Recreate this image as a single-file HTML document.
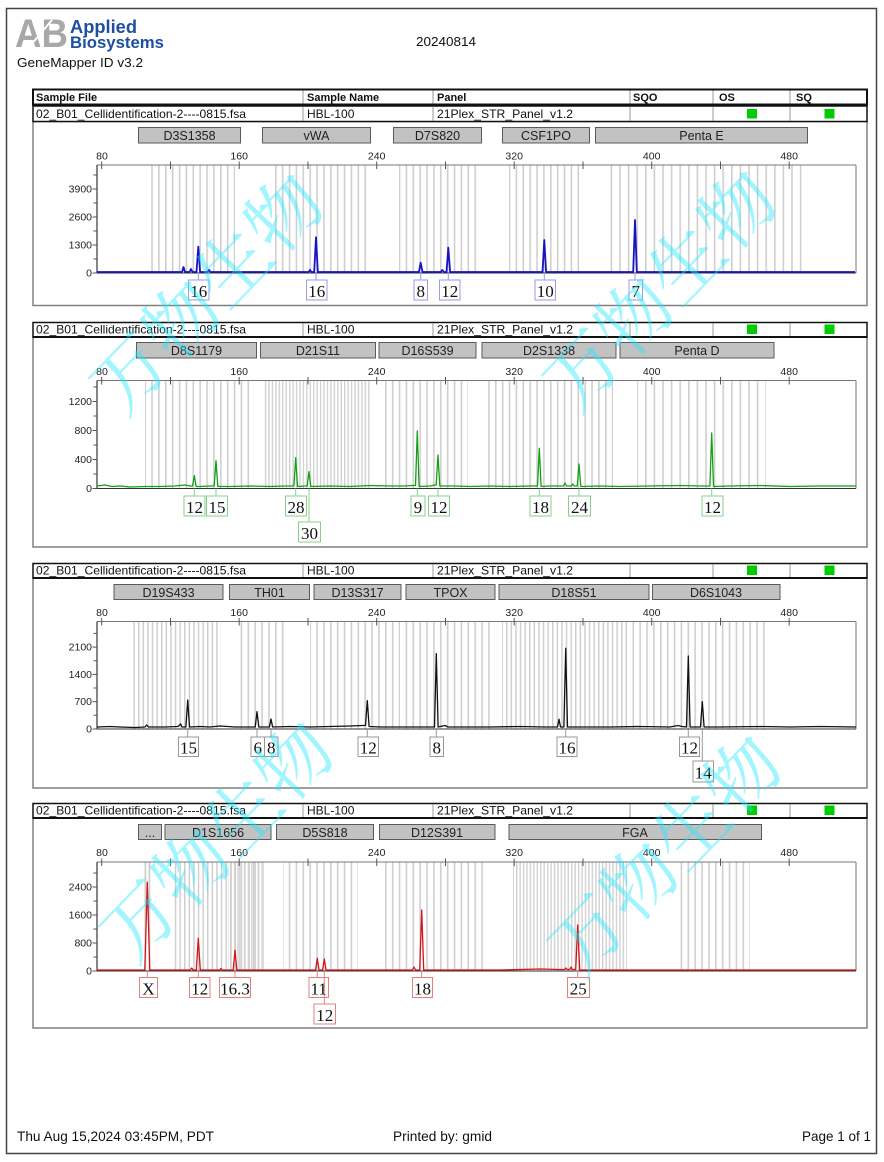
<!DOCTYPE html>
<html>
<head>
<meta charset="utf-8">
<style>
html,body{margin:0;padding:0;background:#fff;}
svg{display:block;}
.s{font-family:"Liberation Sans",Arial,sans-serif;}
.b{font-family:"Liberation Sans",Arial,sans-serif;font-weight:bold;}
.t{font-family:"Liberation Serif","Times New Roman",serif;font-size:17px;fill:#111;}
.ax{font-family:"Liberation Sans",Arial,sans-serif;font-size:10.5px;fill:#222;}
.bin{font-family:"Liberation Sans",Arial,sans-serif;font-size:12.5px;fill:#222;}
.wm{font-family:"Noto Serif CJK SC","Noto Sans CJK SC",serif;font-size:74px;fill:#20e8ff;fill-opacity:0.42;}
</style>
</head>
<body>
<svg width="884" height="1162" viewBox="0 0 884 1162" xmlns="http://www.w3.org/2000/svg">
<defs>
<pattern id="b4" patternUnits="userSpaceOnUse" width="6.875" height="20"><rect x="0" y="0" width="1.6" height="20" fill="#cfcfcf"/></pattern>
<pattern id="b3" patternUnits="userSpaceOnUse" width="4.6" height="20"><rect x="0" y="0" width="1.5" height="20" fill="#cfcfcf"/></pattern>
<pattern id="b2" patternUnits="userSpaceOnUse" width="3.44" height="20"><rect x="0" y="0" width="1.4" height="20" fill="#d2d2d2"/></pattern>
<pattern id="b5" patternUnits="userSpaceOnUse" width="8.6" height="20"><rect x="0" y="0" width="1.6" height="20" fill="#cfcfcf"/></pattern>
</defs>
<rect width="884" height="1162" fill="#fff"/>
<!-- page border -->
<rect x="6.5" y="8.5" width="870" height="1145" fill="none" stroke="#444" stroke-width="1.5"/>

<!-- header -->
<text x="15" y="47" class="b" font-size="40" fill="#a8a8a8" textLength="53" lengthAdjust="spacingAndGlyphs">AB</text>
<line x1="30" y1="46" x2="52" y2="20" stroke="#fff" stroke-width="2"/>
<text x="70" y="33" class="b" font-size="18" fill="#1d50a0" textLength="67" lengthAdjust="spacingAndGlyphs">Applied</text>
<text x="70" y="48" class="b" font-size="17" fill="#1d50a0" textLength="94" lengthAdjust="spacingAndGlyphs">Biosystems</text>
<text x="416" y="46" class="s" font-size="13" fill="#111" textLength="60" lengthAdjust="spacingAndGlyphs">20240814</text>
<text x="17" y="67" class="s" font-size="13" fill="#111" textLength="126" lengthAdjust="spacingAndGlyphs">GeneMapper ID v3.2</text>

<!-- ================= PANEL 1 ================= -->
<rect x="33" y="121.5" width="834" height="184" fill="none" stroke="#808080" stroke-width="1.5"/>
<rect x="33" y="89.5" width="834" height="15" fill="#fff" stroke="#111" stroke-width="2"/>
<g stroke="#999" stroke-width="1"><line x1="303" y1="90.5" x2="303" y2="103.5"/><line x1="433" y1="90.5" x2="433" y2="103.5"/><line x1="630" y1="90.5" x2="630" y2="103.5"/><line x1="713" y1="90.5" x2="713" y2="103.5"/><line x1="790" y1="90.5" x2="790" y2="103.5"/></g>
<g class="b" font-size="11" fill="#111"><text x="36" y="101">Sample File</text><text x="307" y="101">Sample Name</text><text x="437" y="101">Panel</text><text x="633" y="101">SQO</text><text x="719" y="101">OS</text><text x="796" y="101">SQ</text></g>
<rect x="33" y="106" width="834" height="15.5" fill="#fff" stroke="#111" stroke-width="1.5"/>
<g stroke="#999" stroke-width="1"><line x1="303" y1="107" x2="303" y2="120.5"/><line x1="433" y1="107" x2="433" y2="120.5"/><line x1="630" y1="107" x2="630" y2="120.5"/><line x1="713" y1="107" x2="713" y2="120.5"/><line x1="790" y1="107" x2="790" y2="120.5"/></g>
<g class="s" font-size="12" fill="#111"><text x="36" y="118" textLength="210" lengthAdjust="spacingAndGlyphs">02_B01_Cellidentification-2----0815.fsa</text><text x="307" y="118">HBL-100</text><text x="437" y="118" textLength="136" lengthAdjust="spacingAndGlyphs">21Plex_STR_Panel_v1.2</text></g>
<rect x="747" y="109" width="10" height="9.5" fill="#00cc00"/><rect x="824.5" y="109" width="10" height="9.5" fill="#00cc00"/>
<!-- bins boxes -->
<g fill="#c2c2c2" stroke="#5a5a5a" stroke-width="1">
<rect x="138.5" y="127.5" width="102" height="15.5"/><rect x="262.5" y="127.5" width="108" height="15.5"/><rect x="393.5" y="127.5" width="88" height="15.5"/><rect x="502.5" y="127.5" width="87" height="15.5"/><rect x="595.5" y="127.5" width="212" height="15.5"/></g>
<g class="bin" text-anchor="middle"><text x="189.5" y="140">D3S1358</text><text x="316.5" y="140">vWA</text><text x="437.5" y="140">D7S820</text><text x="546" y="140">CSF1PO</text><text x="701.5" y="140">Penta E</text></g>
<!-- allele bins -->
<rect x="149" y="165" width="86" height="108" fill="url(#b4)"/>
<rect x="275" y="165" width="96" height="108" fill="url(#b4)"/>
<rect x="399" y="165" width="79" height="108" fill="url(#b4)"/>
<rect x="509" y="165" width="75" height="108" fill="url(#b4)"/>
<rect x="610" y="165" width="192" height="108" fill="url(#b5)"/>
<!-- plot box -->
<line x1="97" y1="165" x2="856" y2="165" stroke="#777" stroke-width="1"/>
<line x1="856" y1="165" x2="856" y2="273" stroke="#777" stroke-width="1"/>
<line x1="97" y1="165" x2="97" y2="273" stroke="#333" stroke-width="1.2"/>
<line x1="97" y1="273" x2="856" y2="273" stroke="#333" stroke-width="1"/>
<g stroke="#555" stroke-width="1"><line x1="101.7" y1="161.5" x2="101.7" y2="169"/><line x1="170.5" y1="161.5" x2="170.5" y2="169"/><line x1="239.2" y1="161.5" x2="239.2" y2="169"/><line x1="308" y1="161.5" x2="308" y2="169"/><line x1="376.7" y1="161.5" x2="376.7" y2="169"/><line x1="445.5" y1="161.5" x2="445.5" y2="169"/><line x1="514.2" y1="161.5" x2="514.2" y2="169"/><line x1="583" y1="161.5" x2="583" y2="169"/><line x1="651.7" y1="161.5" x2="651.7" y2="169"/><line x1="720.5" y1="161.5" x2="720.5" y2="169"/><line x1="789.2" y1="161.5" x2="789.2" y2="169"/>
<line x1="92.5" y1="273" x2="97" y2="273"/><line x1="92.5" y1="245" x2="97" y2="245"/><line x1="92.5" y1="217" x2="97" y2="217"/><line x1="92.5" y1="189" x2="97" y2="189"/><line x1="93.5" y1="259" x2="97" y2="259"/><line x1="93.5" y1="231" x2="97" y2="231"/><line x1="93.5" y1="203" x2="97" y2="203"/><line x1="93.5" y1="175" x2="97" y2="175"/></g>
<g class="ax" text-anchor="middle"><text x="102" y="159.5">80</text><text x="239.2" y="159.5">160</text><text x="376.7" y="159.5">240</text><text x="514.2" y="159.5">320</text><text x="651.7" y="159.5">400</text><text x="789.2" y="159.5">480</text></g>
<g class="ax" text-anchor="end"><text x="92" y="276.5">0</text><text x="92" y="248.5">1300</text><text x="92" y="220.5">2600</text><text x="92" y="192.5">3900</text></g>
<path d="M97,272 H182 L183.5,267 L185,272 H189.5 L191,269 L192.5,272 H196.5 L198.3,246.7 L200.1,272 H207.5 L209,270 L210.5,272 H308.5 L310,270 L311.5,272 H314.2 L316,237.3 L317.8,272 H418.9 L420.7,262.7 L422.5,272 H440.8 L442.3,270 L443.8,272 H446.5 L448.3,247.7 L450.1,272 H542.5 L544.3,240 L546.1,272 H633.2 L635,220 L636.8,272 H855" fill="none" stroke="#1414c0" stroke-width="1.8" stroke-linejoin="round"/>
<!-- labels P1 -->
<g stroke="#9a9ae6" stroke-width="1" fill="#fff">
<line x1="198.3" y1="273" x2="198.3" y2="280"/><rect x="188.5" y="280" width="20.5" height="20"/>
<line x1="316" y1="273" x2="316" y2="280"/><rect x="306.5" y="280" width="20.5" height="20"/>
<line x1="420.7" y1="273" x2="420.7" y2="280"/><rect x="414" y="280" width="13.5" height="20"/>
<line x1="448.3" y1="273" x2="448.3" y2="280"/><rect x="439.5" y="280" width="20.5" height="20"/>
<line x1="544.3" y1="273" x2="544.3" y2="280"/><rect x="535" y="280" width="20.5" height="20"/>
<line x1="635" y1="273" x2="635" y2="280"/><rect x="629" y="280" width="13.5" height="20"/>
</g>
<g class="t" text-anchor="middle"><text x="198.7" y="297">16</text><text x="316.7" y="297">16</text><text x="420.8" y="297">8</text><text x="449.7" y="297">12</text><text x="545.2" y="297">10</text><text x="635.8" y="297">7</text></g>

<!-- ================= PANEL 2 ================= -->
<rect x="33" y="337" width="834" height="210" fill="none" stroke="#808080" stroke-width="1.5"/>
<rect x="33" y="322.5" width="834" height="14.5" fill="#fff" stroke="#111" stroke-width="1.5"/>
<line x1="33" y1="337" x2="867" y2="337" stroke="#111" stroke-width="2"/>
<g stroke="#999" stroke-width="1"><line x1="303" y1="323.5" x2="303" y2="336"/><line x1="433" y1="323.5" x2="433" y2="336"/><line x1="630" y1="323.5" x2="630" y2="336"/><line x1="713" y1="323.5" x2="713" y2="336"/><line x1="790" y1="323.5" x2="790" y2="336"/></g>
<g class="s" font-size="12" fill="#111"><text x="36" y="333.5" textLength="210" lengthAdjust="spacingAndGlyphs">02_B01_Cellidentification-2----0815.fsa</text><text x="307" y="333.5">HBL-100</text><text x="437" y="333.5" textLength="136" lengthAdjust="spacingAndGlyphs">21Plex_STR_Panel_v1.2</text></g>
<rect x="747" y="324.5" width="10" height="9.5" fill="#00cc00"/><rect x="824.5" y="324.5" width="10" height="9.5" fill="#00cc00"/>
<g fill="#c2c2c2" stroke="#5a5a5a" stroke-width="1">
<rect x="136.5" y="342.5" width="120" height="15.5"/><rect x="260.5" y="342.5" width="115" height="15.5"/><rect x="379" y="342.5" width="97" height="15.5"/><rect x="482" y="342.5" width="134" height="15.5"/><rect x="620" y="342.5" width="154" height="15.5"/></g>
<g class="bin" text-anchor="middle"><text x="196.5" y="355">D8S1179</text><text x="318" y="355">D21S11</text><text x="427.5" y="355">D16S539</text><text x="549" y="355">D2S1338</text><text x="697" y="355">Penta D</text></g>
<rect x="145" y="380.5" width="109" height="108" fill="url(#b4)"/>
<rect x="263" y="380.5" width="108" height="108" fill="url(#b2)"/>
<rect x="385" y="380.5" width="83" height="108" fill="url(#b4)"/>
<rect x="488" y="380.5" width="125" height="108" fill="url(#b4)"/>
<rect x="637" y="380.5" width="129" height="108" fill="url(#b5)"/>
<line x1="97" y1="380.5" x2="856" y2="380.5" stroke="#777" stroke-width="1"/>
<line x1="856" y1="380.5" x2="856" y2="488.5" stroke="#777" stroke-width="1"/>
<line x1="97" y1="380.5" x2="97" y2="488.5" stroke="#333" stroke-width="1.2"/>
<line x1="97" y1="488.5" x2="856" y2="488.5" stroke="#333" stroke-width="1"/>
<g stroke="#555" stroke-width="1"><line x1="101.7" y1="377" x2="101.7" y2="384.5"/><line x1="170.5" y1="377" x2="170.5" y2="384.5"/><line x1="239.2" y1="377" x2="239.2" y2="384.5"/><line x1="308" y1="377" x2="308" y2="384.5"/><line x1="376.7" y1="377" x2="376.7" y2="384.5"/><line x1="445.5" y1="377" x2="445.5" y2="384.5"/><line x1="514.2" y1="377" x2="514.2" y2="384.5"/><line x1="583" y1="377" x2="583" y2="384.5"/><line x1="651.7" y1="377" x2="651.7" y2="384.5"/><line x1="720.5" y1="377" x2="720.5" y2="384.5"/><line x1="789.2" y1="377" x2="789.2" y2="384.5"/>
<line x1="92.5" y1="488.5" x2="97" y2="488.5"/><line x1="92.5" y1="459.5" x2="97" y2="459.5"/><line x1="92.5" y1="430.5" x2="97" y2="430.5"/><line x1="92.5" y1="401.5" x2="97" y2="401.5"/><line x1="93.5" y1="474" x2="97" y2="474"/><line x1="93.5" y1="445" x2="97" y2="445"/><line x1="93.5" y1="416" x2="97" y2="416"/><line x1="93.5" y1="387" x2="97" y2="387"/></g>
<g class="ax" text-anchor="middle"><text x="102" y="375">80</text><text x="239.2" y="375">160</text><text x="376.7" y="375">240</text><text x="514.2" y="375">320</text><text x="651.7" y="375">400</text><text x="789.2" y="375">480</text></g>
<g class="ax" text-anchor="end"><text x="92" y="492">0</text><text x="92" y="463">400</text><text x="92" y="434">800</text><text x="92" y="405">1200</text></g>
<path d="M97,486 L105,485 L112,486.5 L120,486 L130,487 L145,486.5 L160,486.5 L175,486 L185,485 L190,486 L192.5,486 L194.3,475.7 L196.1,486.5 L200,486.5 L210,486 L214.2,486 L216,460.7 L217.8,486.5 L230,486.5 L250,486 L270,486.5 L285,486 L293.9,486 L295.7,457.7 L297.5,486.5 L305,486 L307.2,486 L309,471.7 L310.8,486.5 L330,486 L350,486.5 L370,485.5 L390,486 L405,486 L412,485.5 L415.5,485.5 L417.3,431 L419.1,486.5 L430,486 L435,485 L436.2,485 L438,455 L439.8,486 L455,486 L470,486.5 L490,486 L510,486.5 L530,486 L537.5,486 L539.3,448.3 L541.1,486.5 L550,486 L563.5,486 L565,483 L566.5,486 L571.5,486 L572.7,484 L574,486 L577.2,486 L579,464 L580.8,486.5 L600,486 L620,486.5 L650,486 L680,485.5 L700,486 L709.9,486 L711.7,433 L713.5,486.5 L730,486 L760,485.5 L790,486.5 L820,486 L856,486" fill="none" stroke="#14a014" stroke-width="1.3" stroke-linejoin="round"/>
<g stroke="#88d088" stroke-width="1" fill="#fff">
<line x1="194.3" y1="488.5" x2="194.3" y2="496"/><rect x="184" y="496" width="21" height="20"/>
<line x1="216" y1="488.5" x2="216" y2="496"/><rect x="206.5" y="496" width="21" height="20"/>
<line x1="295.7" y1="488.5" x2="295.7" y2="496"/><rect x="285.5" y="496" width="21" height="20"/>
<line x1="309" y1="488.5" x2="309" y2="522"/><rect x="298.5" y="522" width="22" height="20"/>
<line x1="417.3" y1="488.5" x2="417.3" y2="496"/><rect x="411" y="496" width="14" height="20"/>
<line x1="438" y1="488.5" x2="438" y2="496"/><rect x="428.5" y="496" width="21" height="20"/>
<line x1="539.3" y1="488.5" x2="539.3" y2="496"/><rect x="530" y="496" width="21" height="20"/>
<line x1="579" y1="488.5" x2="579" y2="496"/><rect x="568.5" y="496" width="22" height="20"/>
<line x1="711.7" y1="488.5" x2="711.7" y2="496"/><rect x="702" y="496" width="21" height="20"/>
</g>
<g class="t" text-anchor="middle"><text x="194.5" y="513">12</text><text x="217" y="513">15</text><text x="296" y="513">28</text><text x="309.5" y="539">30</text><text x="418" y="513">9</text><text x="439" y="513">12</text><text x="540.5" y="513">18</text><text x="579.5" y="513">24</text><text x="712.5" y="513">12</text></g>

<!-- ================= PANEL 3 ================= -->
<rect x="33" y="578" width="834" height="210" fill="none" stroke="#808080" stroke-width="1.5"/>
<rect x="33" y="563.5" width="834" height="14.5" fill="#fff" stroke="#111" stroke-width="1.5"/>
<line x1="33" y1="578" x2="867" y2="578" stroke="#111" stroke-width="2"/>
<g stroke="#999" stroke-width="1"><line x1="303" y1="564.5" x2="303" y2="577"/><line x1="433" y1="564.5" x2="433" y2="577"/><line x1="630" y1="564.5" x2="630" y2="577"/><line x1="713" y1="564.5" x2="713" y2="577"/><line x1="790" y1="564.5" x2="790" y2="577"/></g>
<g class="s" font-size="12" fill="#111"><text x="36" y="574.5" textLength="210" lengthAdjust="spacingAndGlyphs">02_B01_Cellidentification-2----0815.fsa</text><text x="307" y="574.5">HBL-100</text><text x="437" y="574.5" textLength="136" lengthAdjust="spacingAndGlyphs">21Plex_STR_Panel_v1.2</text></g>
<rect x="747" y="565.5" width="10" height="9.5" fill="#00cc00"/><rect x="824.5" y="565.5" width="10" height="9.5" fill="#00cc00"/>
<g fill="#c2c2c2" stroke="#5a5a5a" stroke-width="1">
<rect x="114" y="584.5" width="109" height="15"/><rect x="229.5" y="584.5" width="80" height="15"/><rect x="314" y="584.5" width="87" height="15"/><rect x="406" y="584.5" width="89" height="15"/><rect x="499" y="584.5" width="150" height="15"/><rect x="652.5" y="584.5" width="127.5" height="15"/></g>
<g class="bin" text-anchor="middle"><text x="168.5" y="597">D19S433</text><text x="269.5" y="597">TH01</text><text x="357.5" y="597">D13S317</text><text x="450.5" y="597">TPOX</text><text x="574" y="597">D18S51</text><text x="716" y="597">D6S1043</text></g>
<rect x="132" y="621.5" width="89" height="107.5" fill="url(#b3)"/>
<rect x="236" y="621.5" width="52" height="107.5" fill="url(#b4)"/>
<rect x="310" y="621.5" width="90" height="107.5" fill="url(#b4)"/>
<rect x="404" y="621.5" width="89" height="107.5" fill="url(#b4)"/>
<rect x="502" y="621.5" width="125" height="107.5" fill="url(#b3)"/>
<rect x="632" y="621.5" width="133" height="107.5" fill="url(#b4)"/>
<line x1="97" y1="621.5" x2="856" y2="621.5" stroke="#777" stroke-width="1"/>
<line x1="856" y1="621.5" x2="856" y2="729" stroke="#777" stroke-width="1"/>
<line x1="97" y1="621.5" x2="97" y2="729" stroke="#333" stroke-width="1.2"/>
<line x1="97" y1="729" x2="856" y2="729" stroke="#333" stroke-width="1"/>
<g stroke="#555" stroke-width="1"><line x1="101.7" y1="618" x2="101.7" y2="625.5"/><line x1="170.5" y1="618" x2="170.5" y2="625.5"/><line x1="239.2" y1="618" x2="239.2" y2="625.5"/><line x1="308" y1="618" x2="308" y2="625.5"/><line x1="376.7" y1="618" x2="376.7" y2="625.5"/><line x1="445.5" y1="618" x2="445.5" y2="625.5"/><line x1="514.2" y1="618" x2="514.2" y2="625.5"/><line x1="583" y1="618" x2="583" y2="625.5"/><line x1="651.7" y1="618" x2="651.7" y2="625.5"/><line x1="720.5" y1="618" x2="720.5" y2="625.5"/><line x1="789.2" y1="618" x2="789.2" y2="625.5"/>
<line x1="92.5" y1="729" x2="97" y2="729"/><line x1="92.5" y1="701.7" x2="97" y2="701.7"/><line x1="92.5" y1="674.4" x2="97" y2="674.4"/><line x1="92.5" y1="647.1" x2="97" y2="647.1"/><line x1="93.5" y1="715.3" x2="97" y2="715.3"/><line x1="93.5" y1="688" x2="97" y2="688"/><line x1="93.5" y1="660.7" x2="97" y2="660.7"/><line x1="93.5" y1="633.4" x2="97" y2="633.4"/></g>
<g class="ax" text-anchor="middle"><text x="102" y="616">80</text><text x="239.2" y="616">160</text><text x="376.7" y="616">240</text><text x="514.2" y="616">320</text><text x="651.7" y="616">400</text><text x="789.2" y="616">480</text></g>
<g class="ax" text-anchor="end"><text x="92" y="732.5">0</text><text x="92" y="705.2">700</text><text x="92" y="677.9">1400</text><text x="92" y="650.6">2100</text></g>
<path d="M97,727 L110,726.5 L120,727 L135,727.5 L145,727 L146.7,725 L148.5,727 L165,727 L178,726.5 L180.7,724 L182,727 L185.9,727 L187.7,700 L189.5,727 L200,726.5 L210,727 L220,726 L235,727 L250,727 L255.2,727 L257,711.7 L258.8,727 L269.4,727 L271,719 L272.6,727 L290,726.5 L310,727 L330,726.5 L350,726 L362,725.5 L365.5,725.5 L367.3,700.7 L369.1,726.5 L380,727 L400,727 L420,727 L434.5,727 L436.3,653.7 L438.1,727 L445,725.5 L448,727 L460,727 L490,727 L520,726.5 L545,727 L557.5,727 L559,719.3 L560.5,727 L563.9,727 L565.7,648.3 L567.5,727 L580,727 L610,727 L640,726.5 L670,727 L678,725.5 L682,726.5 L686.5,727 L688.3,656 L690.1,727 L700.5,727 L702.3,701.7 L704.1,727 L720,727 L760,726.5 L790,727 L820,726.5 L856,727" fill="none" stroke="#111" stroke-width="1.3" stroke-linejoin="round"/>
<g stroke="#999" stroke-width="1" fill="#fff">
<line x1="187.7" y1="729" x2="187.7" y2="737"/><rect x="178.5" y="737" width="20" height="19.5"/>
<line x1="257" y1="729" x2="257" y2="737"/><rect x="251" y="737" width="13.5" height="19.5"/>
<line x1="271" y1="729" x2="271" y2="737"/><rect x="264.5" y="737" width="13.5" height="19.5"/>
<line x1="367.3" y1="729" x2="367.3" y2="737"/><rect x="358" y="737" width="20.5" height="19.5"/>
<line x1="436.3" y1="729" x2="436.3" y2="737"/><rect x="430" y="737" width="13.5" height="19.5"/>
<line x1="565.7" y1="729" x2="565.7" y2="737"/><rect x="557" y="737" width="20" height="19.5"/>
<line x1="688.3" y1="729" x2="688.3" y2="737"/><rect x="679.5" y="737" width="20" height="19.5"/>
<line x1="702.3" y1="729" x2="702.3" y2="761"/><rect x="693" y="761" width="20.5" height="21"/>
</g>
<g class="t" text-anchor="middle"><text x="188.5" y="753.5">15</text><text x="257.7" y="753.5">6</text><text x="271.3" y="753.5">8</text><text x="368.2" y="753.5">12</text><text x="436.8" y="753.5">8</text><text x="567" y="753.5">16</text><text x="689.5" y="753.5">12</text><text x="703.2" y="778.5">14</text></g>

<!-- ================= PANEL 4 ================= -->
<rect x="33" y="818" width="834" height="210" fill="none" stroke="#808080" stroke-width="1.5"/>
<rect x="33" y="803.5" width="834" height="14.5" fill="#fff" stroke="#111" stroke-width="1.5"/>
<line x1="33" y1="818" x2="867" y2="818" stroke="#111" stroke-width="2"/>
<g stroke="#999" stroke-width="1"><line x1="303" y1="804.5" x2="303" y2="817"/><line x1="433" y1="804.5" x2="433" y2="817"/><line x1="630" y1="804.5" x2="630" y2="817"/><line x1="713" y1="804.5" x2="713" y2="817"/><line x1="790" y1="804.5" x2="790" y2="817"/></g>
<g class="s" font-size="12" fill="#111"><text x="36" y="814.5" textLength="210" lengthAdjust="spacingAndGlyphs">02_B01_Cellidentification-2----0815.fsa</text><text x="307" y="814.5">HBL-100</text><text x="437" y="814.5" textLength="136" lengthAdjust="spacingAndGlyphs">21Plex_STR_Panel_v1.2</text></g>
<rect x="747" y="805.5" width="10" height="9.5" fill="#00cc00"/><rect x="824.5" y="805.5" width="10" height="9.5" fill="#00cc00"/>
<g fill="#c2c2c2" stroke="#5a5a5a" stroke-width="1">
<rect x="138.5" y="824.5" width="23" height="15"/><rect x="165" y="824.5" width="106" height="15"/><rect x="276.5" y="824.5" width="97" height="15"/><rect x="379.5" y="824.5" width="115.5" height="15"/><rect x="509" y="824.5" width="252.5" height="15"/></g>
<g class="bin" text-anchor="middle"><text x="150" y="837">...</text><text x="218" y="837">D1S1656</text><text x="325" y="837">D5S818</text><text x="437" y="837">D12S391</text><text x="635" y="837">FGA</text></g>
<rect x="144.5" y="862" width="1.8" height="109" fill="#cfcfcf"/><rect x="148.5" y="862" width="1.8" height="109" fill="#cfcfcf"/>
<rect x="172" y="862" width="94" height="109" fill="url(#b3)"/>
<rect x="228" y="862" width="34" height="109" fill="url(#b2)"/>
<rect x="283" y="862" width="75" height="109" fill="url(#b4)"/>
<rect x="385" y="862" width="103" height="109" fill="url(#b4)"/>
<rect x="513" y="862" width="114" height="109" fill="url(#b2)"/>
<rect x="677" y="862" width="73" height="109" fill="url(#b4)"/>
<line x1="97" y1="862" x2="856" y2="862" stroke="#777" stroke-width="1"/>
<line x1="856" y1="862" x2="856" y2="971" stroke="#777" stroke-width="1"/>
<line x1="97" y1="862" x2="97" y2="971" stroke="#333" stroke-width="1.2"/>
<line x1="97" y1="971" x2="856" y2="971" stroke="#333" stroke-width="1"/>
<g stroke="#555" stroke-width="1"><line x1="101.7" y1="858.5" x2="101.7" y2="866"/><line x1="170.5" y1="858.5" x2="170.5" y2="866"/><line x1="239.2" y1="858.5" x2="239.2" y2="866"/><line x1="308" y1="858.5" x2="308" y2="866"/><line x1="376.7" y1="858.5" x2="376.7" y2="866"/><line x1="445.5" y1="858.5" x2="445.5" y2="866"/><line x1="514.2" y1="858.5" x2="514.2" y2="866"/><line x1="583" y1="858.5" x2="583" y2="866"/><line x1="651.7" y1="858.5" x2="651.7" y2="866"/><line x1="720.5" y1="858.5" x2="720.5" y2="866"/><line x1="789.2" y1="858.5" x2="789.2" y2="866"/>
<line x1="92.5" y1="971" x2="97" y2="971"/><line x1="92.5" y1="943" x2="97" y2="943"/><line x1="92.5" y1="915" x2="97" y2="915"/><line x1="92.5" y1="887" x2="97" y2="887"/><line x1="93.5" y1="957" x2="97" y2="957"/><line x1="93.5" y1="929" x2="97" y2="929"/><line x1="93.5" y1="901" x2="97" y2="901"/><line x1="93.5" y1="873" x2="97" y2="873"/></g>
<g class="ax" text-anchor="middle"><text x="102" y="856">80</text><text x="239.2" y="856">160</text><text x="376.7" y="856">240</text><text x="514.2" y="856">320</text><text x="651.7" y="856">400</text><text x="789.2" y="856">480</text></g>
<g class="ax" text-anchor="end"><text x="92" y="974.5">0</text><text x="92" y="946.5">800</text><text x="92" y="918.5">1600</text><text x="92" y="890.5">2400</text></g>
<path d="M97,970 L144.8,970 L147.3,882.3 L149.8,970 L190.3,970 L191.7,968 L193,970 L196.3,970 L198.3,938.3 L200.3,970 L219.8,970 L221,968.5 L222.2,970 L233.2,970 L235,950.3 L236.8,970 L315.6,970 L317.3,958.3 L319,970 L322.6,970 L324.3,959 L326,970 L412.5,970 L414,967 L415.5,970 L419.7,970 L421.7,910 L423.7,970 L500,970 L540,969 L560,969.5 L564.8,969.5 L566,968 L567.2,969.5 L569.8,969.5 L571,967 L572.2,969.5 L575.7,969.5 L577.7,925 L579.7,970 L856,970" fill="none" stroke="#d41414" stroke-width="1.3" stroke-linejoin="round"/>
<g stroke="#e48080" stroke-width="1" fill="#fff">
<line x1="147.3" y1="971" x2="147.3" y2="977.5"/><rect x="139.5" y="977.5" width="18" height="20"/>
<line x1="198.3" y1="971" x2="198.3" y2="977.5"/><rect x="189.5" y="977.5" width="20.5" height="20"/>
<line x1="235" y1="971" x2="235" y2="977.5"/><rect x="219.5" y="977.5" width="31" height="20"/>
<line x1="317.3" y1="971" x2="317.3" y2="977.5"/><rect x="309" y="977.5" width="19.5" height="20"/>
<line x1="324.3" y1="971" x2="324.3" y2="1004"/><rect x="314" y="1004" width="21.5" height="20"/>
<line x1="421.7" y1="971" x2="421.7" y2="977.5"/><rect x="412.5" y="977.5" width="20" height="20"/>
<line x1="577.7" y1="971" x2="577.7" y2="977.5"/><rect x="567.5" y="977.5" width="22" height="20"/>
</g>
<g class="t" text-anchor="middle"><text x="148.5" y="994.5">X</text><text x="199.7" y="994.5">12</text><text x="235" y="994.5">16.3</text><text x="318.7" y="994.5">11</text><text x="324.8" y="1021">12</text><text x="422.5" y="994.5">18</text><text x="578.3" y="994.5">25</text></g>

<!-- watermarks -->
<text class="wm" text-anchor="middle" dominant-baseline="central" transform="translate(204,290) rotate(-46)">万物生物</text>
<text class="wm" text-anchor="middle" dominant-baseline="central" transform="translate(657,287) rotate(-46)">万物生物</text>
<text class="wm" text-anchor="middle" dominant-baseline="central" transform="translate(214,838) rotate(-46)">万物生物</text>
<text class="wm" text-anchor="middle" dominant-baseline="central" transform="translate(662,852) rotate(-46)">万物生物</text>

<!-- footer -->
<text x="17" y="1141" class="s" font-size="14" fill="#111" textLength="197" lengthAdjust="spacingAndGlyphs">Thu Aug 15,2024 03:45PM, PDT</text>
<text x="393" y="1141" class="s" font-size="14" fill="#111" textLength="99" lengthAdjust="spacingAndGlyphs">Printed by: gmid</text>
<text x="802" y="1141" class="s" font-size="14" fill="#111" textLength="69" lengthAdjust="spacingAndGlyphs">Page 1 of 1</text>
</svg>
</body>
</html>
